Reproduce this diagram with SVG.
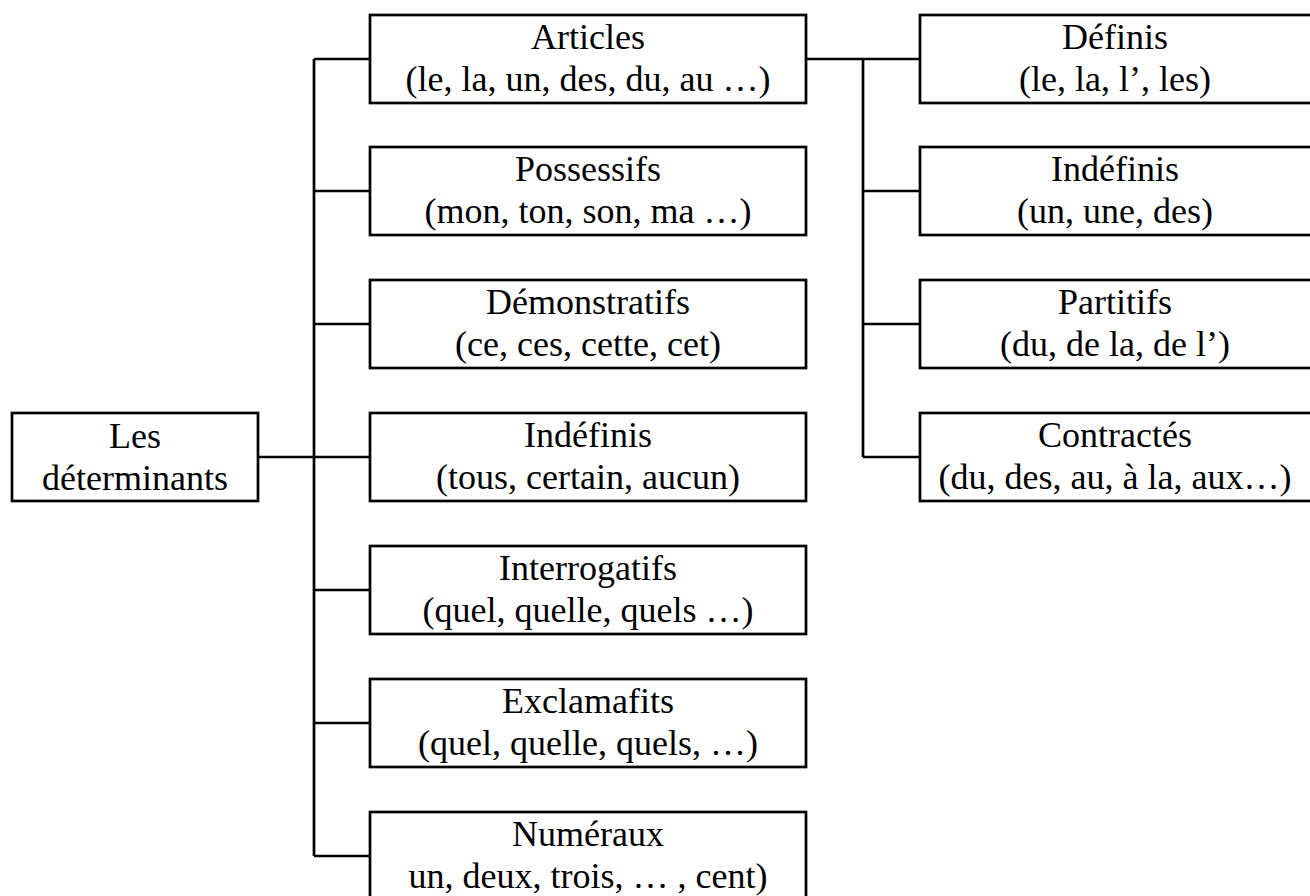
<svg xmlns="http://www.w3.org/2000/svg" width="1310" height="896" viewBox="0 0 1310 896">
<style>
.box{fill:#fff;stroke:#000;stroke-width:2.7}
.ln{fill:none;stroke:#000;stroke-width:2.7}
text{font-family:"Liberation Serif","Times New Roman",serif;font-size:36px;fill:#000;text-anchor:middle}
</style>
<rect width="1310" height="896" fill="#fff"/>
<g id="connectors">
<path class="ln" d="M258,457 H314 M314,59 V856 M314,59 H370 M314,191 H370 M314,324 H370 M314,457 H370 M314,590 H370 M314,723 H370 M314,856 H370"/>
<path class="ln" d="M806,59 H920 M863,59 V457 M863,191 H920 M863,324 H920 M863,457 H920"/>
</g>
<g id="root"><rect class="box" x="12" y="413" width="246" height="88"/><text x="135" y="448">Les</text><text x="135" y="490">déterminants</text></g>
<g id="articles"><rect class="box" x="370" y="15" width="436" height="88"/><text x="588" y="49">Articles</text><text x="588" y="91">(le, la, un, des, du, au …)</text></g>
<g id="possessifs"><rect class="box" x="370" y="147" width="436" height="88"/><text x="588" y="181">Possessifs</text><text x="588" y="223">(mon, ton, son, ma …)</text></g>
<g id="demonstratifs"><rect class="box" x="370" y="280" width="436" height="88"/><text x="588" y="314">Démonstratifs</text><text x="588" y="356">(ce, ces, cette, cet)</text></g>
<g id="indefinis"><rect class="box" x="370" y="413" width="436" height="88"/><text x="588" y="447">Indéfinis</text><text x="588" y="489">(tous, certain, aucun)</text></g>
<g id="interrogatifs"><rect class="box" x="370" y="546" width="436" height="88"/><text x="588" y="580">Interrogatifs</text><text x="588" y="622">(quel, quelle, quels …)</text></g>
<g id="exclamatifs"><rect class="box" x="370" y="679" width="436" height="88"/><text x="588" y="713">Exclamafits</text><text x="588" y="755">(quel, quelle, quels, …)</text></g>
<g id="numeraux"><rect class="box" x="370" y="812" width="436" height="88"/><text x="588" y="846">Numéraux</text><text x="588" y="888">un, deux, trois, … , cent)</text></g>
<g id="definis"><rect class="box" x="920" y="15" width="393" height="88"/><text x="1115" y="49">Définis</text><text x="1115" y="91">(le, la, l’, les)</text></g>
<g id="indefinis-art"><rect class="box" x="920" y="147" width="393" height="88"/><text x="1115" y="181">Indéfinis</text><text x="1115" y="223">(un, une, des)</text></g>
<g id="partitifs"><rect class="box" x="920" y="280" width="393" height="88"/><text x="1115" y="314">Partitifs</text><text x="1115" y="356">(du, de la, de l’)</text></g>
<g id="contractes"><rect class="box" x="920" y="413" width="393" height="88"/><text x="1115" y="447">Contractés</text><text x="1115" y="489">(du, des, au, à la, aux…)</text></g>
</svg>
